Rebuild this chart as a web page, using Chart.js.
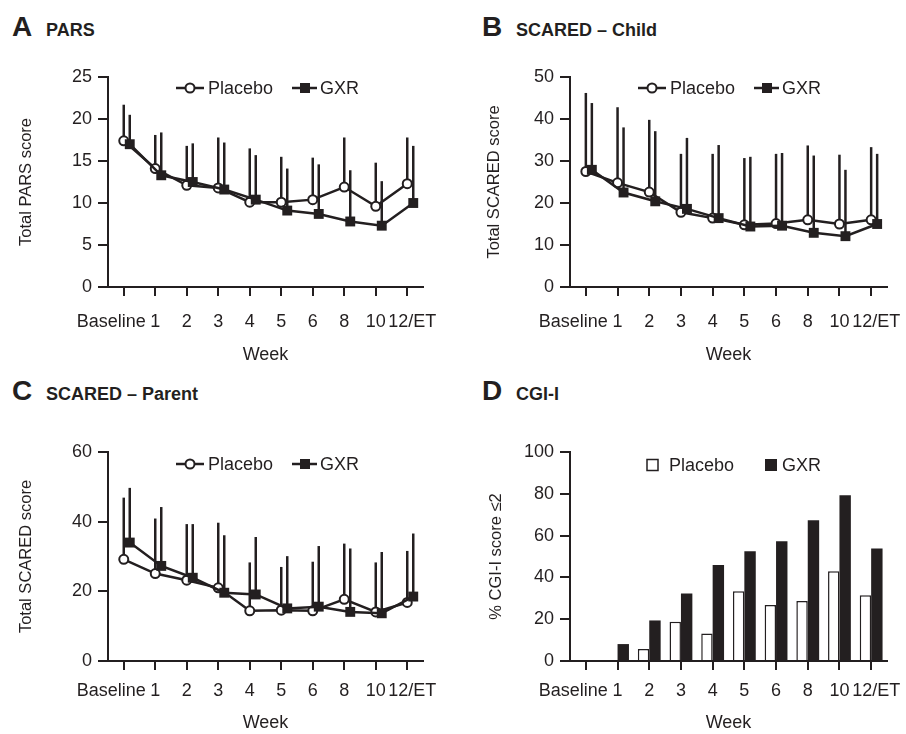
<!DOCTYPE html>
<html><head><meta charset="utf-8">
<script src="https://cdn.jsdelivr.net/npm/chart.js@4"></script>
<style>
html,body{margin:0;padding:0;background:#fff;overflow:hidden;width:906px;height:734px}
.p{position:absolute}
canvas{display:block}
.t{position:absolute;line-height:30px;white-space:nowrap;color:#231f20}
.t .l{display:inline-block;width:34px;font-family:'Liberation Sans',Arial,sans-serif;font-weight:bold;font-size:28px}
.t .n{font-family:'Liberation Sans',Arial,sans-serif;font-weight:bold;font-size:18px}
</style></head>
<body>
<div class="t" style="left:12px;top:12px"><span class="l">A</span><span class="n">PARS</span></div>
<div class="t" style="left:482px;top:12px"><span class="l">B</span><span class="n">SCARED – Child</span></div>
<div class="t" style="left:12px;top:376px"><span class="l">C</span><span class="n">SCARED – Parent</span></div>
<div class="t" style="left:482px;top:376px"><span class="l">D</span><span class="n">CGI-I</span></div>
<canvas id="cA" class="p" style="left:0;top:0" width="453" height="367"></canvas>
<canvas id="cB" class="p" style="left:462px;top:0" width="444" height="367"></canvas>
<canvas id="cC" class="p" style="left:0;top:367px" width="453" height="367"></canvas>
<canvas id="cD" class="p" style="left:462px;top:367px" width="444" height="367"></canvas>
<script>
// ---- data ----
const weeks = ['Baseline','1','2','3','4','5','6','8','10','12/ET'];

const parsPlacebo      = [17.4, 14.1, 12.1, 11.8, 10.1, 10.1, 10.4, 11.9, 9.6, 12.3];
const parsPlaceboUpper = [21.7, 18.1, 16.8, 17.8, 16.5, 15.5, 15.4, 17.8, 14.8, 17.8];
const parsGXR          = [17.0, 13.3, 12.5, 11.6, 10.4, 9.1, 8.7, 7.8, 7.3, 10.0];
const parsGXRUpper     = [20.5, 18.4, 17.1, 17.2, 15.7, 14.1, 14.6, 13.9, 12.6, 16.8];

const childPlacebo      = [27.5, 24.8, 22.6, 17.8, 16.4, 14.8, 15.1, 16.0, 15.0, 16.0];
const childPlaceboUpper = [46.2, 42.8, 39.8, 31.7, 31.7, 30.7, 31.7, 33.7, 31.5, 33.3];
const childGXR          = [27.9, 22.5, 20.4, 18.6, 16.4, 14.4, 14.6, 12.9, 12.1, 15.0];
const childGXRUpper     = [43.8, 38.0, 37.1, 35.5, 33.8, 31.0, 31.9, 31.3, 27.9, 31.7];

const parentPlacebo      = [29.2, 25.1, 23.2, 21.0, 14.4, 14.6, 14.4, 17.7, 14.1, 16.8];
const parentPlaceboUpper = [46.9, 40.9, 39.3, 39.7, 28.3, 27.0, 28.5, 33.7, 28.3, 31.6];
const parentGXR          = [34.0, 27.3, 23.9, 19.6, 19.1, 15.1, 15.6, 14.1, 13.7, 18.5];
const parentGXRUpper     = [49.7, 44.2, 39.3, 36.1, 35.6, 30.1, 33.0, 32.3, 31.3, 36.6];

const cgiPlacebo = [0, 0, 5.7, 18.8, 13.2, 33.4, 26.8, 28.7, 43.0, 31.5];
const cgiGXR     = [0, 8.1, 19.4, 32.3, 45.9, 52.5, 57.3, 67.4, 79.3, 53.8];

// ---- style ----
const INK = '#231f20';
const FONT = "'Liberation Sans',Arial,sans-serif";
const FS = 18;

const shiftPlugin = {
  id: 'shift',
  afterDatasetsUpdate(chart) {
    chart.data.datasets.forEach((ds, i) => {
      const dx = ds.xShift || 0;
      if (!dx) return;
      const meta = chart.getDatasetMeta(i);
      meta.data.forEach(pt => { pt.x += dx; });
      if (meta.dataset) meta.dataset._path = undefined;
    });
  }
};

const errPlugin = {
  id: 'errbars',
  beforeDatasetsDraw(chart) {
    const ctx = chart.ctx, y = chart.scales.y;
    ctx.save();
    ctx.strokeStyle = INK; ctx.lineWidth = 2.5;
    chart.data.datasets.forEach((ds, i) => {
      if (!ds.upper) return;
      chart.getDatasetMeta(i).data.forEach((pt, j) => {
        ctx.beginPath();
        ctx.moveTo(pt.x, pt.y);
        ctx.lineTo(pt.x, y.getPixelForValue(ds.upper[j]));
        ctx.stroke();
      });
    });
    ctx.restore();
  }
};

const legendPlugin = {
  id: 'customLegend',
  afterDraw(chart, args, opts) {
    const a = chart.chartArea, ctx = chart.ctx;
    const ds = chart.data.datasets;
    const y = a.top + opts.dy;
    ctx.save();
    ctx.font = FS + 'px ' + FONT;
    ctx.textBaseline = 'middle'; ctx.textAlign = 'left';
    ctx.fillStyle = INK; ctx.strokeStyle = INK;
    if (opts.kind === 'line') {
      ctx.lineWidth = 2.5;
      ctx.beginPath(); ctx.moveTo(a.left + 68, y); ctx.lineTo(a.left + 96, y); ctx.stroke();
      ctx.beginPath(); ctx.arc(a.left + 82, y, 4.5, 0, Math.PI * 2);
      ctx.fillStyle = '#fff'; ctx.fill(); ctx.lineWidth = 2; ctx.stroke();
      ctx.fillStyle = INK;
      ctx.fillText(ds[0].label, a.left + 100, y + 1);
      ctx.lineWidth = 2.5;
      ctx.beginPath(); ctx.moveTo(a.left + 184, y); ctx.lineTo(a.left + 209, y); ctx.stroke();
      ctx.fillRect(a.left + 192, y - 5, 10, 10);
      ctx.fillText(ds[1].label, a.left + 212, y + 1);
    } else {
      ctx.lineWidth = 1.5;
      ctx.fillStyle = '#fff';
      ctx.fillRect(a.left + 77, y - 5.5, 11, 11);
      ctx.strokeRect(a.left + 77, y - 5.5, 11, 11);
      ctx.fillStyle = INK;
      ctx.fillText(ds[0].label, a.left + 99, y + 1);
      ctx.fillRect(a.left + 195, y - 6, 12, 12);
      ctx.fillText(ds[1].label, a.left + 212, y + 1);
    }
    ctx.restore();
  }
};

function xLabel(v, i) {
  const s = weeks[i];
  if (i === 0) return s + '     ';
  if (i === weeks.length - 1) return '  ' + s;
  return s;
}

function scalesFor(cfg) {
  return {
    x: {
      type: 'category', offset: true,
      grid: { display: true, drawOnChartArea: false, drawTicks: true, tickLength: 9, color: INK, lineWidth: 2, offset: false },
      border: { display: true, color: INK, width: 2 },
      ticks: { color: INK, font: { family: FONT, size: FS }, padding: cfg.xPad, maxRotation: 0, minRotation: 0, autoSkip: false, callback: xLabel },
      title: { display: true, text: 'Week', color: INK, font: { family: FONT, size: FS, lineHeight: 1.2 }, padding: { top: 0, bottom: cfg.wPad } },
      afterFit(s) { s.height = cfg.xh; s.paddingLeft = 0; s.paddingRight = 0; }
    },
    y: {
      min: 0, max: cfg.yMax,
      ticks: { stepSize: cfg.step, color: INK, font: { family: FONT, size: FS }, padding: 6 },
      grid: { display: true, drawOnChartArea: false, drawTicks: true, tickLength: 10, color: INK, lineWidth: 2 },
      border: { display: true, color: INK, width: 2 },
      title: { display: true, text: cfg.yTitle, color: INK, font: { family: FONT, size: 16.5, lineHeight: 1.2 }, padding: { top: cfg.tPad, bottom: 0 } },
      afterFit(s) { s.width = 108; s.paddingTop = 0; s.paddingBottom = 0; }
    }
  };
}

function lineChart(id, placebo, placeboUpper, gxr, gxrUpper, cfg) {
  return new Chart(document.getElementById(id), {
    type: 'line',
    data: {
      labels: weeks,
      datasets: [
        { label: 'Placebo', data: placebo, upper: placeboUpper, order: 1,
          borderColor: INK, borderWidth: 2.5, pointStyle: 'circle', pointRadius: 4.5,
          pointBackgroundColor: '#fff', pointBorderColor: INK, pointBorderWidth: 2, tension: 0 },
        { label: 'GXR', data: gxr, upper: gxrUpper, order: 0, xShift: 6,
          borderColor: INK, borderWidth: 2.5, pointStyle: 'rect', pointRadius: 7,
          pointBackgroundColor: INK, pointBorderColor: INK, pointBorderWidth: 0, tension: 0 }
      ]
    },
    options: {
      responsive: false, animation: false, devicePixelRatio: 1,
      layout: { padding: { top: cfg.top, right: cfg.right, left: 0, bottom: 0 } },
      plugins: { legend: { display: false }, tooltip: { enabled: false },
        customLegend: { kind: 'line', dy: cfg.legDy } },
      scales: scalesFor(cfg)
    },
    plugins: [shiftPlugin, errPlugin, legendPlugin]
  });
}

lineChart('cA', parsPlacebo, parsPlaceboUpper, parsGXR, parsGXRUpper,
  { top: 77, right: 30, xh: 80, xPad: 15, wPad: 1, yMax: 25, step: 5, yTitle: 'Total PARS score', tPad: 17, legDy: 11 });
lineChart('cB', childPlacebo, childPlaceboUpper, childGXR, childGXRUpper,
  { top: 77, right: 19, xh: 80, xPad: 15, wPad: 1, yMax: 50, step: 10, yTitle: 'Total SCARED score', tPad: 23, legDy: 11 });
lineChart('cC', parentPlacebo, parentPlaceboUpper, parentGXR, parentGXRUpper,
  { top: 85, right: 30, xh: 73, xPad: 10, wPad: 0, yMax: 60, step: 20, yTitle: 'Total SCARED score', tPad: 17, legDy: 12 });

new Chart(document.getElementById('cD'), {
  type: 'bar',
  data: {
    labels: weeks,
    datasets: [
      { label: 'Placebo', data: cgiPlacebo, backgroundColor: '#fff', borderColor: INK, borderWidth: 1.5, borderSkipped: 'bottom' },
      { label: 'GXR', data: cgiGXR, backgroundColor: INK, borderColor: INK, borderWidth: 0 }
    ]
  },
  options: {
    responsive: false, animation: false, devicePixelRatio: 1,
    categoryPercentage: 0.72, barPercentage: 1.0,
    layout: { padding: { top: 85, right: 19, left: 0, bottom: 0 } },
    plugins: { legend: { display: false }, tooltip: { enabled: false },
      customLegend: { kind: 'box', dy: 13 } },
    scales: scalesFor({ xh: 73, xPad: 10, wPad: 0, yMax: 100, step: 20, yTitle: '% CGI-I score ≤2', tPad: 25 })
  },
  plugins: [legendPlugin]
});
</script>
</body></html>
